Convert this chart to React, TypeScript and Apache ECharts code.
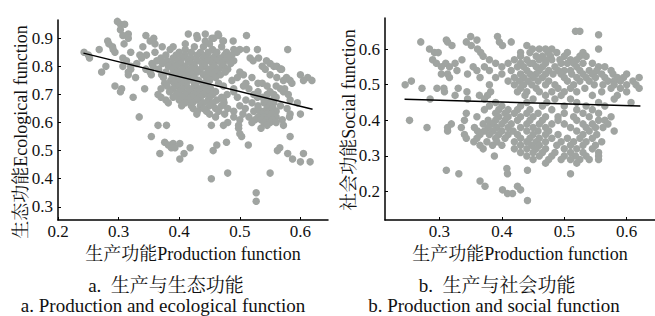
import React, { useEffect, useRef } from "react";
import * as echarts from "echarts";

// Left panel: production (x) vs ecological (y); rows of [y, xs]
const ecoRows: Array<[number, number[]]> = [
  [0.96, [0.298]],
  [0.95, [0.303, 0.31]],
  [0.93, [0.303]],
  [0.915, [0.316, 0.415, 0.464, 0.443]],
  [0.91, [0.307, 0.345, 0.429, 0.511, 0.465]],
  [0.9, [0.316, 0.358, 0.454, 0.457, 0.43]],
  [0.89, [0.282, 0.352, 0.443, 0.472, 0.473, 0.489]],
  [0.88, [0.284, 0.309, 0.36, 0.41, 0.45]],
  [0.87, [0.29, 0.34, 0.372, 0.39, 0.425, 0.44, 0.47]],
  [0.86, [0.268, 0.291, 0.385, 0.41, 0.455, 0.49, 0.5, 0.511, 0.579, 0.529]],
  [0.85, [0.243, 0.294, 0.32, 0.36, 0.4, 0.42, 0.435, 0.448, 0.462, 0.478, 0.495]],
  [0.84, [0.25, 0.335, 0.346, 0.378, 0.395, 0.41, 0.43, 0.445, 0.46, 0.475, 0.487]],
  [0.83, [0.252, 0.307, 0.338, 0.37, 0.39, 0.405, 0.42, 0.44, 0.455, 0.468, 0.48, 0.517, 0.531]],
  [0.82, [0.313, 0.363, 0.38, 0.398, 0.415, 0.43, 0.448, 0.462, 0.475, 0.49, 0.522, 0.544]],
  [0.81, [0.33, 0.355, 0.372, 0.388, 0.403, 0.42, 0.438, 0.455, 0.47, 0.485, 0.55]],
  [0.8, [0.279, 0.307, 0.32, 0.357, 0.382, 0.395, 0.41, 0.425, 0.442, 0.458, 0.473, 0.537, 0.556, 0.561]],
  [0.79, [0.32, 0.345, 0.366, 0.39, 0.405, 0.42, 0.435, 0.45, 0.465, 0.48, 0.542, 0.567, 0.569]],
  [0.78, [0.272, 0.316, 0.352, 0.378, 0.398, 0.414, 0.43, 0.447, 0.46, 0.476, 0.5]],
  [0.77, [0.316, 0.354, 0.371, 0.388, 0.405, 0.42, 0.44, 0.455, 0.468, 0.506, 0.55, 0.6]],
  [0.76, [0.328, 0.374, 0.395, 0.41, 0.425, 0.445, 0.46, 0.496, 0.52, 0.561, 0.577, 0.612]],
  [0.75, [0.386, 0.4, 0.415, 0.432, 0.45, 0.487, 0.572, 0.583, 0.605, 0.619]],
  [0.74, [0.376, 0.392, 0.408, 0.425, 0.44, 0.465, 0.51, 0.53, 0.537, 0.586]],
  [0.73, [0.294, 0.38, 0.398, 0.412, 0.428, 0.445, 0.473, 0.506, 0.545, 0.56]],
  [0.72, [0.305, 0.343, 0.37, 0.39, 0.405, 0.42, 0.435, 0.452, 0.49, 0.515, 0.567, 0.574]],
  [0.71, [0.303, 0.384, 0.4, 0.415, 0.43, 0.445, 0.46, 0.49, 0.53, 0.55, 0.572]],
  [0.7, [0.365, 0.395, 0.41, 0.425, 0.44, 0.455, 0.479, 0.523, 0.545, 0.556, 0.58]],
  [0.69, [0.324, 0.37, 0.39, 0.405, 0.42, 0.435, 0.45, 0.47, 0.496, 0.529, 0.537, 0.56]],
  [0.68, [0.378, 0.4, 0.415, 0.43, 0.448, 0.462, 0.473, 0.51, 0.545, 0.555, 0.583]],
  [0.67, [0.382, 0.41, 0.422, 0.44, 0.456, 0.474, 0.52, 0.54, 0.556, 0.595]],
  [0.66, [0.404, 0.42, 0.435, 0.45, 0.47, 0.5, 0.53, 0.549, 0.567]],
  [0.65, [0.423, 0.44, 0.46, 0.48, 0.509, 0.53, 0.545, 0.555, 0.578]],
  [0.64, [0.43, 0.445, 0.465, 0.49, 0.523, 0.534, 0.54, 0.55, 0.56]],
  [0.63, [0.429, 0.45, 0.475, 0.505, 0.535, 0.545, 0.553, 0.583, 0.6]],
  [0.62, [0.334, 0.46, 0.49, 0.515, 0.53, 0.54, 0.55, 0.56, 0.582]],
  [0.61, [0.5, 0.525, 0.535, 0.545, 0.553, 0.57]],
  [0.6, [0.48, 0.52, 0.54, 0.55, 0.56]],
  [0.59, [0.365, 0.379, 0.453, 0.473, 0.498, 0.545, 0.572]],
  [0.58, [0.498, 0.535]],
  [0.56, [0.5]],
  [0.55, [0.354, 0.503, 0.583]],
  [0.53, [0.376, 0.478]],
  [0.525, [0.39, 0.401]],
  [0.52, [0.382, 0.462, 0.514]],
  [0.51, [0.387, 0.393, 0.418, 0.566]],
  [0.5, [0.456, 0.562]],
  [0.49, [0.368, 0.408, 0.579, 0.605]],
  [0.47, [0.401, 0.587]],
  [0.46, [0.6, 0.616]],
  [0.42, [0.48, 0.55]],
  [0.4, [0.453]],
  [0.35, [0.527]],
  [0.32, [0.527]],
];

// Right panel: production (x) vs social (y); rows of [y, xs]
const socRows: Array<[number, number[]]> = [
  [0.65, [0.518, 0.525]],
  [0.64, [0.555]],
  [0.635, [0.35, 0.393]],
  [0.625, [0.311, 0.36]],
  [0.62, [0.27, 0.313, 0.343, 0.396, 0.415]],
  [0.61, [0.32, 0.351, 0.401, 0.44]],
  [0.6, [0.284, 0.361, 0.449, 0.46, 0.47, 0.48, 0.555]],
  [0.59, [0.292, 0.298, 0.366, 0.43, 0.445, 0.474, 0.488, 0.505, 0.53]],
  [0.58, [0.37, 0.43, 0.455, 0.465, 0.478, 0.5, 0.525, 0.535]],
  [0.57, [0.289, 0.336, 0.38, 0.42, 0.44, 0.46, 0.47, 0.48, 0.493, 0.51, 0.52]],
  [0.56, [0.295, 0.31, 0.325, 0.39, 0.41, 0.43, 0.445, 0.45, 0.47, 0.495, 0.505, 0.515, 0.53, 0.545]],
  [0.55, [0.303, 0.316, 0.354, 0.372, 0.4, 0.425, 0.435, 0.455, 0.465, 0.485, 0.52, 0.555, 0.565]],
  [0.54, [0.328, 0.36, 0.38, 0.415, 0.44, 0.46, 0.475, 0.49, 0.5, 0.51, 0.525, 0.54, 0.552, 0.575]],
  [0.53, [0.303, 0.313, 0.345, 0.4, 0.43, 0.445, 0.455, 0.47, 0.482, 0.495, 0.512, 0.53, 0.545, 0.56, 0.578, 0.6]],
  [0.52, [0.316, 0.365, 0.39, 0.42, 0.435, 0.45, 0.465, 0.5, 0.52, 0.535, 0.55, 0.565, 0.585, 0.595, 0.62]],
  [0.51, [0.255, 0.41, 0.428, 0.442, 0.458, 0.475, 0.505, 0.525, 0.54, 0.57, 0.58, 0.59, 0.61]],
  [0.5, [0.245, 0.38, 0.42, 0.435, 0.448, 0.47, 0.485, 0.515, 0.548, 0.562, 0.58, 0.6, 0.615]],
  [0.49, [0.272, 0.296, 0.307, 0.33, 0.43, 0.455, 0.49, 0.51, 0.533, 0.575, 0.59, 0.62]],
  [0.48, [0.308, 0.344, 0.382, 0.425, 0.44, 0.46, 0.48, 0.5, 0.52, 0.56, 0.6]],
  [0.47, [0.325, 0.364, 0.377, 0.437, 0.47, 0.495, 0.545, 0.585]],
  [0.46, [0.285, 0.345, 0.372, 0.45, 0.485, 0.51, 0.58]],
  [0.45, [0.39, 0.44, 0.472, 0.52, 0.555, 0.607]],
  [0.44, [0.38, 0.4, 0.43, 0.465, 0.5, 0.535, 0.565]],
  [0.43, [0.372, 0.395, 0.41, 0.425, 0.445, 0.48, 0.52, 0.545]],
  [0.42, [0.343, 0.39, 0.405, 0.42, 0.44, 0.458, 0.5, 0.53, 0.555]],
  [0.41, [0.36, 0.395, 0.41, 0.43, 0.45, 0.47, 0.49, 0.515, 0.54, 0.575]],
  [0.4, [0.252, 0.34, 0.378, 0.39, 0.405, 0.425, 0.445, 0.465, 0.49, 0.52, 0.555, 0.565]],
  [0.39, [0.319, 0.37, 0.385, 0.4, 0.415, 0.44, 0.46, 0.48, 0.5, 0.53, 0.545, 0.57]],
  [0.38, [0.28, 0.313, 0.335, 0.356, 0.378, 0.392, 0.41, 0.43, 0.45, 0.47, 0.51, 0.535, 0.55, 0.562]],
  [0.37, [0.313, 0.361, 0.372, 0.386, 0.4, 0.418, 0.44, 0.458, 0.475, 0.52, 0.54, 0.58]],
  [0.36, [0.34, 0.365, 0.38, 0.395, 0.41, 0.425, 0.45, 0.47, 0.49, 0.53, 0.552]],
  [0.35, [0.343, 0.36, 0.39, 0.405, 0.43, 0.445, 0.46, 0.48, 0.505, 0.525, 0.545]],
  [0.34, [0.355, 0.376, 0.392, 0.42, 0.44, 0.455, 0.47, 0.495, 0.515, 0.535, 0.56]],
  [0.33, [0.365, 0.385, 0.4, 0.43, 0.448, 0.46, 0.488, 0.51, 0.53, 0.55]],
  [0.32, [0.37, 0.42, 0.44, 0.455, 0.47, 0.5, 0.52, 0.545]],
  [0.31, [0.43, 0.45, 0.465, 0.485, 0.51, 0.53, 0.555]],
  [0.3, [0.388, 0.44, 0.46, 0.48, 0.5, 0.518, 0.535, 0.555]],
  [0.29, [0.45, 0.475, 0.495, 0.51, 0.525, 0.54, 0.555]],
  [0.28, [0.47, 0.52]],
  [0.265, [0.408]],
  [0.26, [0.311, 0.441]],
  [0.25, [0.331, 0.409, 0.51]],
  [0.23, [0.365]],
  [0.215, [0.373, 0.425]],
  [0.205, [0.401, 0.43]],
  [0.195, [0.409, 0.417]],
  [0.175, [0.441]],
];

const ecoFit = [[0.242, 0.847], [0.62, 0.647]];
const socFit = [[0.244, 0.459], [0.622, 0.44]];

const ecoXTicks = [0.2, 0.3, 0.4, 0.5, 0.6];
const ecoYTicks = [0.3, 0.4, 0.5, 0.6, 0.7, 0.8, 0.9];
const socXTicks = [0.3, 0.4, 0.5, 0.6];
const socYTicks = [0.2, 0.3, 0.4, 0.5, 0.6];

const xName = "生产功能Production function";
const ecoYName = "生态功能Ecological function";
const socYName = "社会功能Social function";
const captions = [
  "a.  生产与生态功能",
  "a. Production and ecological function",
  "b.  生产与社会功能",
  "b. Production and social function",
];

const toPoints = (rows: Array<[number, number[]]>) =>
  rows.flatMap(([y, xs]) => xs.map((x) => [x, y]));

const FONT = "'Liberation Serif', 'Times New Roman', 'Noto Serif CJK SC', 'Noto Sans CJK SC', serif";
const DOT = "#a0a4a1";

function axisCommon(ticks: number[], margin: number) {
  return {
    type: "value" as const,
    axisLine: { show: true, onZero: false, lineStyle: { color: "#000", width: 1.5 } },
    axisTick: { show: true, inside: true, length: 3, customValues: ticks, lineStyle: { color: "#000", width: 1 } },
    axisLabel: {
      customValues: ticks,
      formatter: (v: number) => v.toFixed(1),
      fontSize: 17,
      color: "#111",
      fontFamily: FONT,
      margin,
    },
    splitLine: { show: false },
  };
}

export default function App() {
  const ref = useRef<HTMLDivElement>(null);
  useEffect(() => {
    if (!ref.current) return;
    const chart = echarts.init(ref.current, undefined, { renderer: "svg" });
    const nameStyle = { fontSize: 18, color: "#111", fontFamily: FONT };
    const capStyle = (text: string) => ({
      text,
      font: `19px ${FONT}`,
      fill: "#111",
      align: "center",
      verticalAlign: "middle",
    });
    chart.setOption({
      animation: false,
      backgroundColor: "#fff",
      grid: [
        { left: 58, top: 20, width: 270, height: 200 },
        { left: 385, top: 18, width: 270, height: 202 },
      ],
      xAxis: [
        {
          ...axisCommon(ecoXTicks, 3),
          gridIndex: 0,
          min: 0.2,
          max: 0.6455,
          name: xName,
          nameLocation: "middle",
          nameGap: 18,
          nameTextStyle: nameStyle,
        },
        {
          ...axisCommon(socXTicks, 3),
          gridIndex: 1,
          min: 0.2127,
          max: 0.6454,
          name: xName,
          nameLocation: "middle",
          nameGap: 18,
          nameTextStyle: nameStyle,
        },
      ],
      yAxis: [
        { ...axisCommon(ecoYTicks, 5), gridIndex: 0, min: 0.253, max: 0.965 },
        { ...axisCommon(socYTicks, 5), gridIndex: 1, min: 0.1205, max: 0.687 },
      ],
      series: [
        {
          type: "scatter",
          xAxisIndex: 0,
          yAxisIndex: 0,
          data: toPoints(ecoRows),
          symbolSize: 7.5,
          itemStyle: { color: DOT, opacity: 1 },
        },
        {
          type: "line",
          xAxisIndex: 0,
          yAxisIndex: 0,
          data: ecoFit,
          showSymbol: false,
          lineStyle: { color: "#000", width: 1.5 },
        },
        {
          type: "scatter",
          xAxisIndex: 1,
          yAxisIndex: 1,
          data: toPoints(socRows),
          symbolSize: 7.5,
          itemStyle: { color: DOT, opacity: 1 },
        },
        {
          type: "line",
          xAxisIndex: 1,
          yAxisIndex: 1,
          data: socFit,
          showSymbol: false,
          lineStyle: { color: "#000", width: 1.5 },
        },
      ],
      graphic: [
        {
          type: "text",
          x: 21,
          y: 132,
          rotation: Math.PI / 2,
          style: { text: ecoYName, font: `18px ${FONT}`, fill: "#111", align: "center", verticalAlign: "middle" },
        },
        {
          type: "text",
          x: 349,
          y: 120,
          rotation: Math.PI / 2,
          style: { text: socYName, font: `18px ${FONT}`, fill: "#111", align: "center", verticalAlign: "middle" },
        },
        { type: "text", x: 166, y: 285, style: capStyle(captions[0]) },
        { type: "text", x: 163, y: 305, style: capStyle(captions[1]) },
        { type: "text", x: 497, y: 285, style: capStyle(captions[2]) },
        { type: "text", x: 494, y: 305, style: capStyle(captions[3]) },
      ],
    });
    return () => chart.dispose();
  }, []);
  return (
    <div
      ref={ref}
      style={{ position: "absolute", left: 0, top: 0, width: 655, height: 316 }}
    />
  );
}
